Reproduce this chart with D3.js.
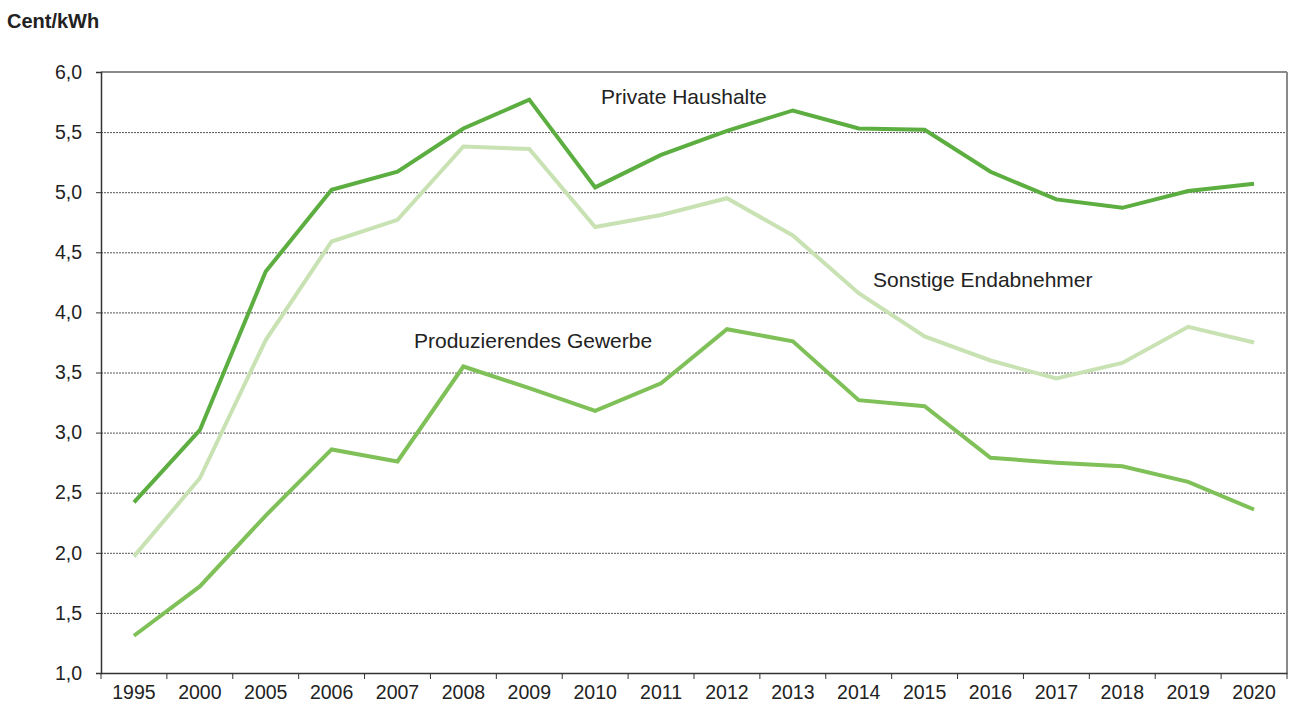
<!DOCTYPE html>
<html>
<head>
<meta charset="utf-8">
<script src="https://cdn.jsdelivr.net/npm/d3@7"></script>
<style>
  body { margin: 0; background: #fff; }
  svg { font-family: "Liberation Sans", Arial, sans-serif; }
</style>
</head>
<body>
<svg width="1291" height="711"></svg>
<script>
const years = ["1995", "2000", "2005", "2006", "2007", "2008", "2009", "2010", "2011",
  "2012", "2013", "2014", "2015", "2016", "2017", "2018", "2019", "2020"];

const privateHaushalte = [2.42, 3.02, 4.34, 5.02, 5.17, 5.53, 5.77, 5.04, 5.31,
  5.51, 5.68, 5.53, 5.52, 5.17, 4.94, 4.87, 5.01, 5.07];
const sonstigeEndabnehmer = [1.97, 2.62, 3.77, 4.59, 4.77, 5.38, 5.36, 4.71, 4.81,
  4.95, 4.64, 4.16, 3.80, 3.60, 3.45, 3.58, 3.88, 3.75];
const produzierendesGewerbe = [1.31, 1.72, 2.31, 2.86, 2.76, 3.55, 3.37, 3.18, 3.41,
  3.86, 3.76, 3.27, 3.22, 2.79, 2.75, 2.72, 2.59, 2.36];

const yTicks = [1.0, 1.5, 2.0, 2.5, 3.0, 3.5, 4.0, 4.5, 5.0, 5.5, 6.0];

const series = [
  { name: "Sonstige Endabnehmer", values: sonstigeEndabnehmer, color: "#c9e2b3" },
  { name: "Produzierendes Gewerbe", values: produzierendesGewerbe, color: "#7fc158" },
  { name: "Private Haushalte", values: privateHaushalte, color: "#5cae40" }
];

const svg = d3.select("svg");
const plotLeft = 101, plotRight = 1287, plotTop = 72, plotBottom = 673;

const x = d3.scaleBand().domain(years).range([plotLeft, plotRight]);
const y = d3.scaleLinear().domain([1, 6]).range([plotBottom, plotTop]);

// grid
svg.selectAll(".grid")
  .data(yTicks.filter(d => d > 1 && d < 6))
  .enter()
  .append("line")
  .attr("x1", plotLeft)
  .attr("x2", plotRight)
  .attr("y1", d => y(d) + 0.5)
  .attr("y2", d => y(d) + 0.5)
  .attr("stroke", "#555")
  .attr("stroke-width", 1)
  .attr("stroke-dasharray", "2,1");

// top + right border
svg.append("line").attr("x1", plotLeft).attr("x2", plotRight).attr("y1", plotTop).attr("y2", plotTop)
  .attr("stroke", "#8a8a8a").attr("stroke-width", 2);
svg.append("line").attr("x1", plotRight).attr("x2", plotRight).attr("y1", plotTop).attr("y2", plotBottom)
  .attr("stroke", "#8a8a8a").attr("stroke-width", 2);

// y axis
const yAxis = svg.append("g")
  .attr("transform", `translate(${plotLeft},0)`)
  .call(d3.axisLeft(y).tickValues(yTicks).tickSize(5).tickPadding(14)
    .tickFormat(d => d3.format(".1f")(d).replace(".", ",")));
yAxis.select(".domain").attr("stroke", "#333").attr("stroke-width", 1.5);
yAxis.selectAll(".tick line").attr("stroke", "#333");
yAxis.selectAll("text").attr("font-size", 19.5).attr("fill", "#222")
  .attr("font-family", "Liberation Sans, Arial, sans-serif");

// x axis
const xAxis = svg.append("g")
  .attr("transform", `translate(0,${plotBottom})`)
  .call(d3.axisBottom(x).tickSize(0).tickPadding(12));
xAxis.select(".domain").attr("stroke", "#333").attr("stroke-width", 1.5);
xAxis.selectAll("text").attr("font-size", 19.5).attr("fill", "#222")
  .attr("font-family", "Liberation Sans, Arial, sans-serif");

// boundary ticks between categories
svg.selectAll(".xtick")
  .data(years)
  .enter()
  .append("line")
  .attr("x1", d => x(d))
  .attr("x2", d => x(d))
  .attr("y1", plotBottom)
  .attr("y2", plotBottom + 6)
  .attr("stroke", "#333");
svg.append("line").attr("x1", plotRight).attr("x2", plotRight).attr("y1", plotBottom).attr("y2", plotBottom + 6)
  .attr("stroke", "#333");

// lines
const line = d3.line()
  .x((d, i) => x(years[i]) + x.bandwidth() / 2)
  .y(d => y(d));

svg.selectAll(".series")
  .data(series)
  .enter()
  .append("path")
  .attr("d", d => line(d.values))
  .attr("fill", "none")
  .attr("stroke", d => d.color)
  .attr("stroke-width", 4);

// labels
const labels = [
  { text: "Private Haushalte", x: 601, y: 104 },
  { text: "Sonstige Endabnehmer", x: 873, y: 287 },
  { text: "Produzierendes Gewerbe", x: 414, y: 348 }
];
svg.selectAll(".label")
  .data(labels)
  .enter()
  .append("text")
  .attr("x", d => d.x)
  .attr("y", d => d.y)
  .attr("font-size", 21)
  .attr("fill", "#222")
  .text(d => d.text);

svg.append("text")
  .attr("x", 7)
  .attr("y", 28)
  .attr("font-size", 20)
  .attr("font-weight", "bold")
  .attr("fill", "#222")
  .text("Cent/kWh");
</script>
</body>
</html>
